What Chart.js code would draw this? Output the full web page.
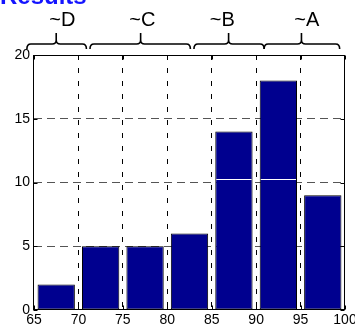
<!DOCTYPE html>
<html>
<head>
<meta charset="utf-8">
<script src="https://cdn.jsdelivr.net/npm/chart.js@4"></script>
<style>
body { margin: 0; background: #fff; }
#wrap { position: relative; width: 355px; height: 331px; overflow: hidden; }
#heading { position: absolute; left: 0; top: -16px; font: bold 24px "Liberation Sans", Arial, sans-serif; line-height: 24px; color: #1414ff; white-space: nowrap; }
canvas { position: absolute; left: 0; top: 0; }
</style>
</head>
<body>
<div id="wrap">
  <canvas id="gradeChart" width="355" height="331"></canvas>
  <div id="heading">Results</div>
</div>
<script>
// histogram bins (scores) and counts
var binCenters = [67.5, 72.5, 77.5, 82.5, 87.5, 92.5, 97.5];
var counts = [2, 5, 5, 6, 14, 18, 9];
var xTickValues = [65, 70, 75, 80, 85, 90, 95, 100];
var yTickValues = [0, 5, 10, 15, 20];

// grade braces above the plot, in score units
var gradeNames = ['~D', '~C', '~B', '~A'];
var braceFrom = [64.2, 71.3, 83.0, 90.9];
var braceTo = [70.9, 82.6, 90.9, 99.4];
var braceTip = [67.5, 77.0, 86.9, 95.1];
var gradeLabelAt = [68.2, 77.2, 86.2, 95.7];

// white render glitch seen across the tall bars
var glitchLevel = 10.25;

var FONT = '"Liberation Sans", Arial, sans-serif';

function edgeTick(ctx, lo, hi, col) {
    if (!ctx.tick) return col;
    return (ctx.tick.value === lo || ctx.tick.value === hi) ? 'rgba(0,0,0,0)' : col;
}

function drawBrace(ctx, x1, x2, xt, yBase, yEnd, yTop) {
    var r = 4;
    ctx.beginPath();
    ctx.moveTo(x1, yEnd);
    ctx.quadraticCurveTo(x1, yBase, x1 + r, yBase);
    ctx.lineTo(xt - r, yBase);
    ctx.quadraticCurveTo(xt, yBase, xt, yBase - r);
    ctx.lineTo(xt, yTop);
    ctx.moveTo(xt, yBase - r);
    ctx.quadraticCurveTo(xt, yBase, xt + r, yBase);
    ctx.lineTo(x2 - r, yBase);
    ctx.quadraticCurveTo(x2, yBase, x2, yEnd);
    ctx.stroke();
}

var framePlugin = {
    id: 'frame',
    afterDatasetsDraw: function (chart) {
        var ctx = chart.ctx;
        var a = chart.chartArea;
        var xs = chart.scales.x;
        var ys = chart.scales.y;
        ctx.save();

        // glitch line
        var gy = Math.round(ys.getPixelForValue(glitchLevel)) + 0.5;
        ctx.strokeStyle = '#fff';
        ctx.lineWidth = 1;
        chart.getDatasetMeta(0).data.forEach(function (bar, i) {
            if (counts[i] > glitchLevel) {
                ctx.beginPath();
                ctx.moveTo(bar.x - bar.width / 2 + 1, gy);
                ctx.lineTo(bar.x + bar.width / 2 - 1, gy);
                ctx.stroke();
            }
        });

        // axes box
        var l = Math.round(a.left) - 0.5, r = Math.round(a.right) - 0.5;
        var t = Math.round(a.top) + 0.5, b = Math.round(a.bottom) - 0.5;
        ctx.strokeStyle = '#000';
        ctx.lineWidth = 1;
        ctx.strokeRect(l, t, r - l, b - t);

        // inward ticks
        ctx.beginPath();
        xTickValues.forEach(function (v) {
            var px = Math.round(xs.getPixelForValue(v)) + 0.5;
            ctx.moveTo(px, t); ctx.lineTo(px, t + 4);
            ctx.moveTo(px, b); ctx.lineTo(px, b - 4);
        });
        yTickValues.forEach(function (v) {
            var py = Math.round(ys.getPixelForValue(v)) + 0.5;
            ctx.moveTo(l, py); ctx.lineTo(l + 4, py);
            ctx.moveTo(r, py); ctx.lineTo(r - 4, py);
        });
        ctx.stroke();

        // grade braces + labels
        ctx.lineWidth = 1.6;
        for (var i = 0; i < gradeNames.length; i++) {
            drawBrace(ctx,
                xs.getPixelForValue(braceFrom[i]),
                xs.getPixelForValue(braceTo[i]),
                xs.getPixelForValue(braceTip[i]),
                a.top - 11, a.top - 6, a.top - 22);
        }
        ctx.fillStyle = '#000';
        ctx.font = '20px ' + FONT;
        ctx.textAlign = 'center';
        ctx.textBaseline = 'middle';
        for (var j = 0; j < gradeNames.length; j++) {
            ctx.fillText(gradeNames[j], xs.getPixelForValue(gradeLabelAt[j]), a.top - 35);
        }
        ctx.restore();
    }
};

var ctx = document.getElementById('gradeChart').getContext('2d');
var gradeChart = new Chart(ctx, {
    type: 'bar',
    data: {
        datasets: [{
            data: binCenters.map(function (x, i) { return { x: x, y: counts[i] }; }),
            backgroundColor: 'rgb(0,0,143)',
            borderColor: '#000',
            borderWidth: 1,
            borderSkipped: false,
            barPercentage: 0.84,
            categoryPercentage: 1
        }]
    },
    options: {
        responsive: false,
        animation: false,
        devicePixelRatio: 1,
        layout: { padding: { top: 55, left: 0, right: 0, bottom: 0 } },
        plugins: { legend: { display: false }, tooltip: { enabled: false } },
        scales: {
            x: {
                type: 'linear',
                min: 65,
                max: 100,
                offset: false,
                afterBuildTicks: function (scale) {
                    scale.ticks = xTickValues.map(function (v) { return { value: v }; });
                },
                afterFit: function (scale) {
                    scale.height = 21;
                    scale.paddingRight = 10;
                },
                ticks: { font: { size: 14, family: FONT }, color: '#000', padding: 2, maxRotation: 0, autoSkip: false },
                grid: {
                    offset: false,
                    drawTicks: false,
                    lineWidth: 1,
                    color: function (c) { return edgeTick(c, 65, 100, '#000'); }
                },
                border: { display: false, dash: [5, 8] }
            },
            y: {
                min: 0,
                max: 20,
                afterBuildTicks: function (scale) {
                    scale.ticks = yTickValues.map(function (v) { return { value: v }; });
                },
                afterFit: function (scale) { scale.width = 34; },
                ticks: { font: { size: 14, family: FONT }, color: '#000', padding: 4 },
                grid: {
                    drawTicks: false,
                    lineWidth: 1,
                    color: function (c) { return edgeTick(c, 0, 20, '#555'); }
                },
                border: { display: false, dash: [8, 5] }
            }
        }
    },
    plugins: [framePlugin]
});
</script>
</body>
</html>
